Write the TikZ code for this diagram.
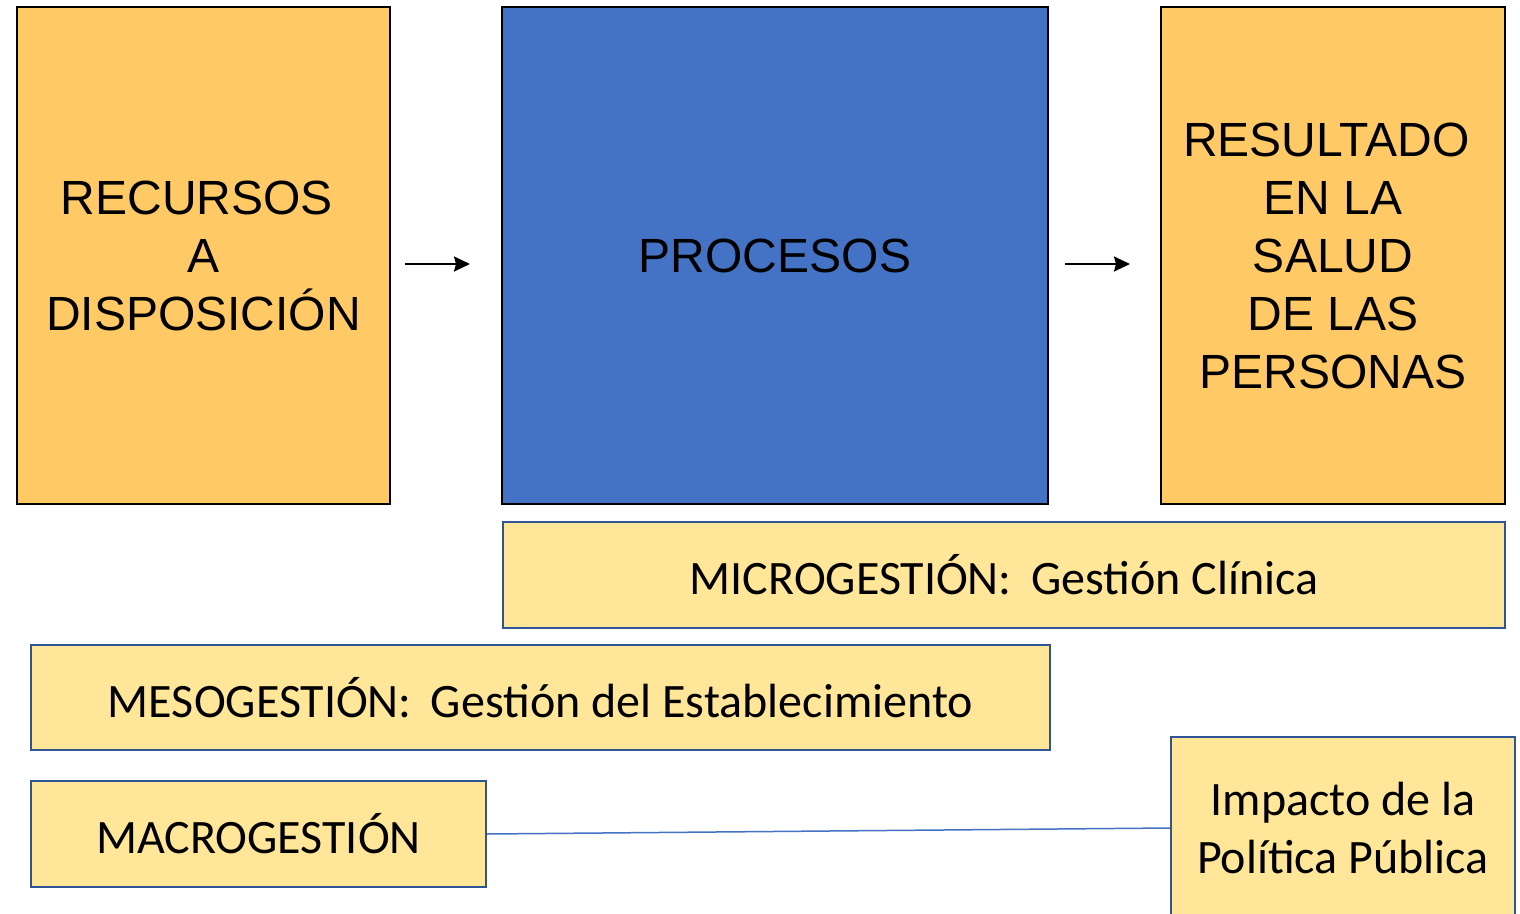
\documentclass[tikz,border=0pt]{standalone}
\usepackage{fontspec}
\newfontfamily\arialf{Liberation Sans}
\newfontfamily\calibf{Carlito}
\usetikzlibrary{arrows.meta}
\definecolor{orangebox}{HTML}{FFCA66}
\definecolor{bluebox}{HTML}{4472C4}
\definecolor{lightbox}{HTML}{FFE699}
\definecolor{blueborder}{HTML}{2F5597}
\definecolor{linkblue}{HTML}{4472C4}
\newcommand{\tsp}{\hspace*{0.28em}}
\tikzset{
  bigbox/.style={draw=black, line width=2pt, inner sep=0pt, align=center,
    font=\arialf\fontsize{48}{58}\selectfont},
  mgmt/.style={draw=blueborder, fill=lightbox, line width=2pt, inner sep=0pt, align=center,
    font=\calibf\fontsize{48}{58}\selectfont},
  flow/.style={line width=2pt, -{Stealth[length=16pt,width=15pt,inset=2pt]}},
  link/.style={draw=linkblue, line width=1.5pt}
}
\begin{document}
\begin{tikzpicture}[x=1pt,y=-1pt]
\clip (0,0) rectangle (1520,913);
\fill[white] (0,0) rectangle (1520,913);
\node[bigbox, fill=orangebox, minimum width=373pt, minimum height=497pt] (rec) at (203.5,255.5) {RECURSOS\tsp\\A\tsp\\DISPOSICIÓN};
\node[bigbox, fill=bluebox, minimum width=546pt, minimum height=497pt] (proc) at (775,255.5) {PROCESOS};
\node[bigbox, fill=orangebox, minimum width=344pt, minimum height=497pt] (res) at (1333,255.5) {RESULTADO\tsp\\EN LA\tsp\\SALUD\tsp\\DE LAS\tsp\\PERSONAS};
\coordinate (a1s) at (405,264);
\coordinate (a1e) at (470,264);
\coordinate (a2s) at (1065,264);
\coordinate (a2e) at (1130,264);
\draw[flow] (a1s) -- (a1e);
\draw[flow] (a2s) -- (a2e);
\node[mgmt, minimum width=1002pt, minimum height=106pt] (micro) at (1004,575) {MICROGESTIÓN:\hspace{0.4em}Gestión Clínica};
\node[mgmt, minimum width=1019pt, minimum height=105pt] (meso) at (540.5,697.5) {MESOGESTIÓN:\hspace{0.4em}Gestión del Establecimiento};
\node[mgmt, minimum width=455pt, minimum height=106pt] (macro) at (258.5,834) {MACROGESTIÓN};
\node[mgmt, minimum width=344pt, minimum height=182pt] (imp) at (1343,828) {Impacto de la\\Política Pública};
\draw[link] (macro.east) -- (imp.west);
\end{tikzpicture}
\end{document}
